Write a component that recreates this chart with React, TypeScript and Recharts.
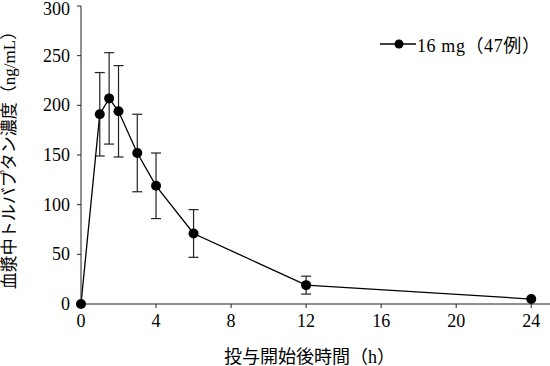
import { LineChart, Line, XAxis, YAxis, ErrorBar, Legend } from "recharts";

// 投与開始後時間 (h)
const hours = [0, 1, 1.5, 2, 3, 4, 6, 12, 24];
// 血漿中濃度 平均値 (ng/mL)
const meanConc = [0, 191, 207, 194, 152, 119, 71, 19, 5];
// 標準偏差
const sdConc = [0, 42, 46, 46, 39, 33, 24, 9, 0];

const xTicks = [0, 4, 8, 12, 16, 20, 24];
const yTicks = [0, 50, 100, 150, 200, 250, 300];

const seriesName = "16 mg（47例）";
const xTitle = "投与開始後時間（h）";
const yTitle = "血漿中トルバプタン濃度（ng/mL）";

const SERIF = "'Liberation Serif', 'Times New Roman', serif";
const FONT = "'Liberation Serif', 'Noto Sans CJK JP', serif";

const data = hours.map((h, i) => ({ h, conc: meanConc[i], sd: sdConc[i] }));

function LegendBox() {
    return (
        <div style={{ display: "flex", alignItems: "center", fontFamily: FONT, fontSize: 18, letterSpacing: 0.6, color: "#000", whiteSpace: "nowrap" }}>
            <svg width={36} height={12}>
                <line x1={0} y1={6} x2={36} y2={6} stroke="#000" strokeWidth={1.3} />
                <circle cx={19} cy={6} r={4.5} fill="#000" />
            </svg>
            <span style={{ marginLeft: 1 }}>{seriesName}</span>
        </div>
    );
}

// 目盛ラベルは自前で描く(フォント指定を確実にするため)
function XTick(props: any) {
    const { x, y, payload } = props;
    return (
        <text x={x} y={y + 14} textAnchor="middle" fill="#000" style={{ fontSize: 18, fontFamily: SERIF }}>
            {payload.value}
        </text>
    );
}

function YTick(props: any) {
    const { x, y, payload } = props;
    return (
        <text x={x} y={y + 6} textAnchor="end" fill="#000" style={{ fontSize: 18, fontFamily: SERIF }}>
            {payload.value}
        </text>
    );
}

export default function App() {
    return (
        <div style={{ position: "absolute", left: 0, top: 0 }}>
            <LineChart
                width={550}
                height={366}
                data={data}
                margin={{ top: 6, right: 0, bottom: 0, left: 0 }}
            >
                <XAxis
                    dataKey="h"
                    type="number"
                    domain={[0, 25]}
                    ticks={xTicks}
                    height={62}
                    tickSize={4}
                    tickMargin={5}
                    stroke="#222"
                    tick={XTick}
                    label={{ value: xTitle, position: "insideBottom", offset: 3, dx: -6, fill: "#000", fontSize: 18, fontFamily: FONT }}
                />
                <YAxis
                    type="number"
                    domain={[0, 300]}
                    ticks={yTicks}
                    width={81}
                    tickSize={4}
                    tickMargin={7}
                    stroke="#222"
                    tick={YTick}
                    label={{ value: yTitle, angle: -90, position: "insideLeft", offset: 0, dx: 9, dy: 1, fill: "#000", fontSize: 17, fontFamily: FONT, style: { textAnchor: "middle" } }}
                />
                {/* verticalAlign middle + align center keeps the legend out of the plot offset */}
                <Legend
                    verticalAlign="middle"
                    align="center"
                    wrapperStyle={{ top: 31, left: 380, width: "auto" }}
                    content={() => <LegendBox />}
                />
                <Line
                    dataKey="conc"
                    name={seriesName}
                    stroke="#000"
                    strokeWidth={1.3}
                    dot={{ r: 5, fill: "#000", stroke: "#000", strokeWidth: 0 }}
                    isAnimationActive={false}
                >
                    <ErrorBar dataKey="sd" width={5} stroke="#222" strokeWidth={1.2} direction="y" />
                </Line>
            </LineChart>
        </div>
    );
}
